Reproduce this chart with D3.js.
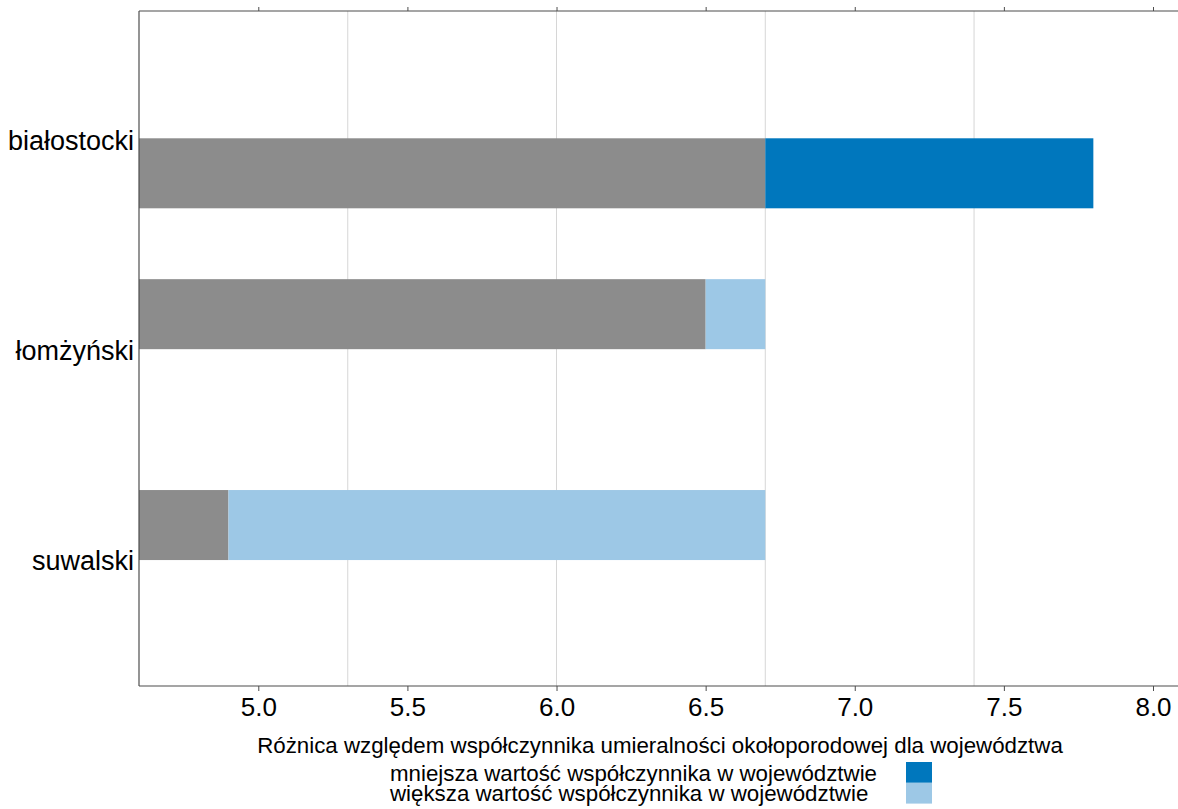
<!DOCTYPE html>
<html>
<head>
<meta charset="utf-8">
<script src="https://cdn.jsdelivr.net/npm/d3@7"></script>
<style>
  html, body { margin: 0; padding: 0; background: #fff; }
  svg { display: block; font-family: "Liberation Sans", Arial, sans-serif; }
</style>
</head>
<body>
<svg id="chart" width="1178" height="809"></svg>
<script>
// ---- data ----
const categories = ["białostocki", "łomżyński", "suwalski"];
const subregionValues = [7.8, 6.5, 4.9];
const provinceValue = 6.7;
const xTicks = [5.0, 5.5, 6.0, 6.5, 7.0, 7.5, 8.0];
const gridValues = [5.3, 6.0, 6.7, 7.4];
const axisTitle = "Różnica względem współczynnika umieralności okołoporodowej dla województwa";
const legendLabels = ["mniejsza wartość współczynnika w województwie", "większa wartość współczynnika w województwie"];
const colors = { base: "#8c8c8c", lower: "#0077bd", higher: "#9dc8e6" };

(function () {
// ---- layout ----
const plot = { left: 139, right: 1178, top: 11, bottom: 686 };
const svg = d3.select("#chart");

const x = d3.scaleLinear().domain([4.6, 8.0]).range([plot.left, 1153]);
// category rows on a continuous vertical axis (label rows at 1,2,3)
const y = d3.scaleLinear().domain([1, 3]).range([140.5, 561]);
const barRow = [1.156, 1.826, 2.829];   // where each category's bar sits
const barHalf = 0.1665;

// gridlines
svg.append("g").selectAll("line").data(gridValues).join("line")
  .attr("x1", d => x(d)).attr("x2", d => x(d))
  .attr("y1", plot.top).attr("y2", plot.bottom)
  .attr("stroke", "#d6d6d6").attr("stroke-width", 1);

// bars
const rows = categories.map((c, i) => ({
  cat: c, v: subregionValues[i], row: barRow[i]
}));
const gBars = svg.append("g");
rows.forEach(r => {
  const lo = Math.min(r.v, provinceValue), hi = Math.max(r.v, provinceValue);
  const y0 = y(r.row - barHalf), y1 = y(r.row + barHalf);
  gBars.append("rect")
    .attr("x", x.range()[0]).attr("width", x(lo) - x.range()[0])
    .attr("y", y0).attr("height", y1 - y0).attr("fill", colors.base);
  gBars.append("rect")
    .attr("x", x(lo)).attr("width", x(hi) - x(lo))
    .attr("y", y0).attr("height", y1 - y0)
    .attr("fill", r.v > provinceValue ? colors.lower : colors.higher);
});

// axes
const axisColor = "#4d4d4d";
const gBottom = svg.append("g").attr("transform", `translate(0,${plot.bottom})`)
  .call(d3.axisBottom(x).tickValues(xTicks).tickFormat(d3.format(".1f")).tickSize(5).tickSizeOuter(0));
gBottom.select(".domain").remove();
gBottom.selectAll(".tick line").attr("stroke", axisColor);
gBottom.selectAll(".tick text").attr("font-size", 26).attr("fill", "#000")
  .attr("font-family", "Liberation Sans, Arial, sans-serif").attr("dy", "0.85em");
svg.append("line").attr("x1", plot.left).attr("x2", plot.right)
  .attr("y1", plot.bottom).attr("y2", plot.bottom).attr("stroke", axisColor).attr("stroke-width", 1.2);

const gTop = svg.append("g").attr("transform", `translate(0,${plot.top})`)
  .call(d3.axisTop(x).tickValues(xTicks).tickFormat("").tickSize(4).tickSizeOuter(0));
gTop.select(".domain").remove();
gTop.selectAll(".tick line").attr("stroke", axisColor);
svg.append("line").attr("x1", plot.left).attr("x2", plot.right)
  .attr("y1", plot.top).attr("y2", plot.top).attr("stroke", axisColor).attr("stroke-width", 1.2);

svg.append("line").attr("x1", plot.left).attr("x2", plot.left)
  .attr("y1", plot.top).attr("y2", plot.bottom).attr("stroke", axisColor).attr("stroke-width", 1.2);

// category labels
svg.append("g").selectAll("text").data(categories).join("text")
  .attr("x", 134).attr("y", (d, i) => y(i + 1))
  .attr("text-anchor", "end").attr("dominant-baseline", "central")
  .attr("font-size", 27).attr("fill", "#000").text(d => d);

// axis title
svg.append("text").attr("x", 660).attr("y", 745)
  .attr("text-anchor", "middle").attr("dominant-baseline", "central")
  .attr("font-size", 22.3).attr("fill", "#000").text(axisTitle);

// legend
const legendColors = [colors.lower, colors.higher];
const lg = svg.append("g");
legendLabels.forEach((t, i) => {
  lg.append("rect").attr("x", 906).attr("y", 762 + i * 20.8)
    .attr("width", 26).attr("height", 20.8).attr("fill", legendColors[i]);
  lg.append("text").attr("x", 390).attr("y", 773 + i * 20.5)
    .attr("dominant-baseline", "central").attr("font-size", 22.3).attr("fill", "#000").text(t);
});
})();
</script>
</body>
</html>
